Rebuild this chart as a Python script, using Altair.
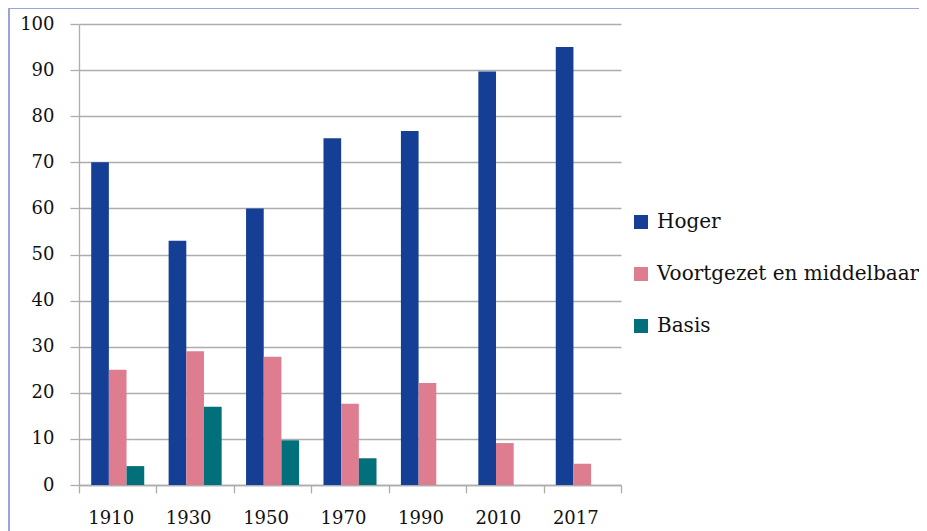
import altair as alt
import pandas as pd

years = ["1910", "1930", "1950", "1970", "1990", "2010", "2017"]
categories = ["Hoger", "Voortgezet en middelbaar", "Basis"]
hoger = [70, 53, 60, 75.2, 76.8, 89.7, 95]
voortgezet = [25, 29, 27.8, 17.6, 22.1, 9.1, 4.6]
basis = [4.1, 17, 9.7, 5.8, 0, 0, 0]
colors = ["#143F94", "#DE7D90", "#02707A"]
y_ticks = [0, 10, 20, 30, 40, 50, 60, 70, 80, 90, 100]

rows = []
for i, y in enumerate(years):
    for c, vals in zip(categories, [hoger, voortgezet, basis]):
        rows.append({"jaar": y, "niveau": c, "waarde": vals[i]})
df = pd.DataFrame(rows)

FONT = "DejaVu Serif"
GRID = "#ADADAD"

bars = alt.Chart(df).mark_bar().encode(
    x=alt.X("jaar:N", sort=years, title=None,
            scale=alt.Scale(paddingInner=0, paddingOuter=0),
            axis=alt.Axis(labelAngle=0, labelFont=FONT, labelFontSize=18,
                          labelColor="#111111", labelPadding=16,
                          labelOffset=-7,
                          tickBand="extent", tickSize=8, tickColor=GRID,
                          domainColor=GRID, domainWidth=1.3, tickWidth=1.3,
                          grid=False)),
    xOffset=alt.XOffset("niveau:N", sort=categories,
                        scale=alt.Scale(paddingInner=0, paddingOuter=0.69)),
    y=alt.Y("waarde:Q", title=None,
            scale=alt.Scale(domain=[0, 100], nice=False),
            axis=alt.Axis(values=y_ticks, labelFont=FONT, labelFontSize=18,
                          labelColor="#111111", labelPadding=16,
                          tickSize=9, tickColor=GRID, tickWidth=1.3,
                          domainColor=GRID, domainWidth=1.3,
                          grid=True, gridColor=GRID, gridWidth=1.3)),
    color=alt.Color("niveau:N", sort=categories,
                    scale=alt.Scale(domain=categories, range=colors),
                    legend=alt.Legend(title=None, orient="none",
                                      legendX=552, legendY=188,
                                      symbolType="square", symbolSize=196,
                                      symbolStrokeWidth=0,
                                      labelFont=FONT, labelFontSize=20,
                                      labelColor="#111111", labelOffset=6,
                                      rowPadding=32, padding=0,
                                      labelLimit=400)),
)

frame_top = alt.Chart(df).mark_rule(color="#97A6D6", strokeWidth=1.5).encode(
    x=alt.value(-70), x2=alt.value(900), y=alt.value(-16))
frame_left = alt.Chart(df).mark_rule(color="#97A6D6", strokeWidth=1.5).encode(
    x=alt.value(-70), y=alt.value(-16), y2=alt.value(600))

chart = alt.layer(frame_top, frame_left, bars).properties(
    width=542, height=461,
    autosize=alt.AutoSizeParams(type="none"),
    padding={"left": 71, "top": 16, "right": 298, "bottom": 46},
).configure_view(stroke=None)

chart.save("out.html", embed_options={"renderer": "svg", "actions": False})
